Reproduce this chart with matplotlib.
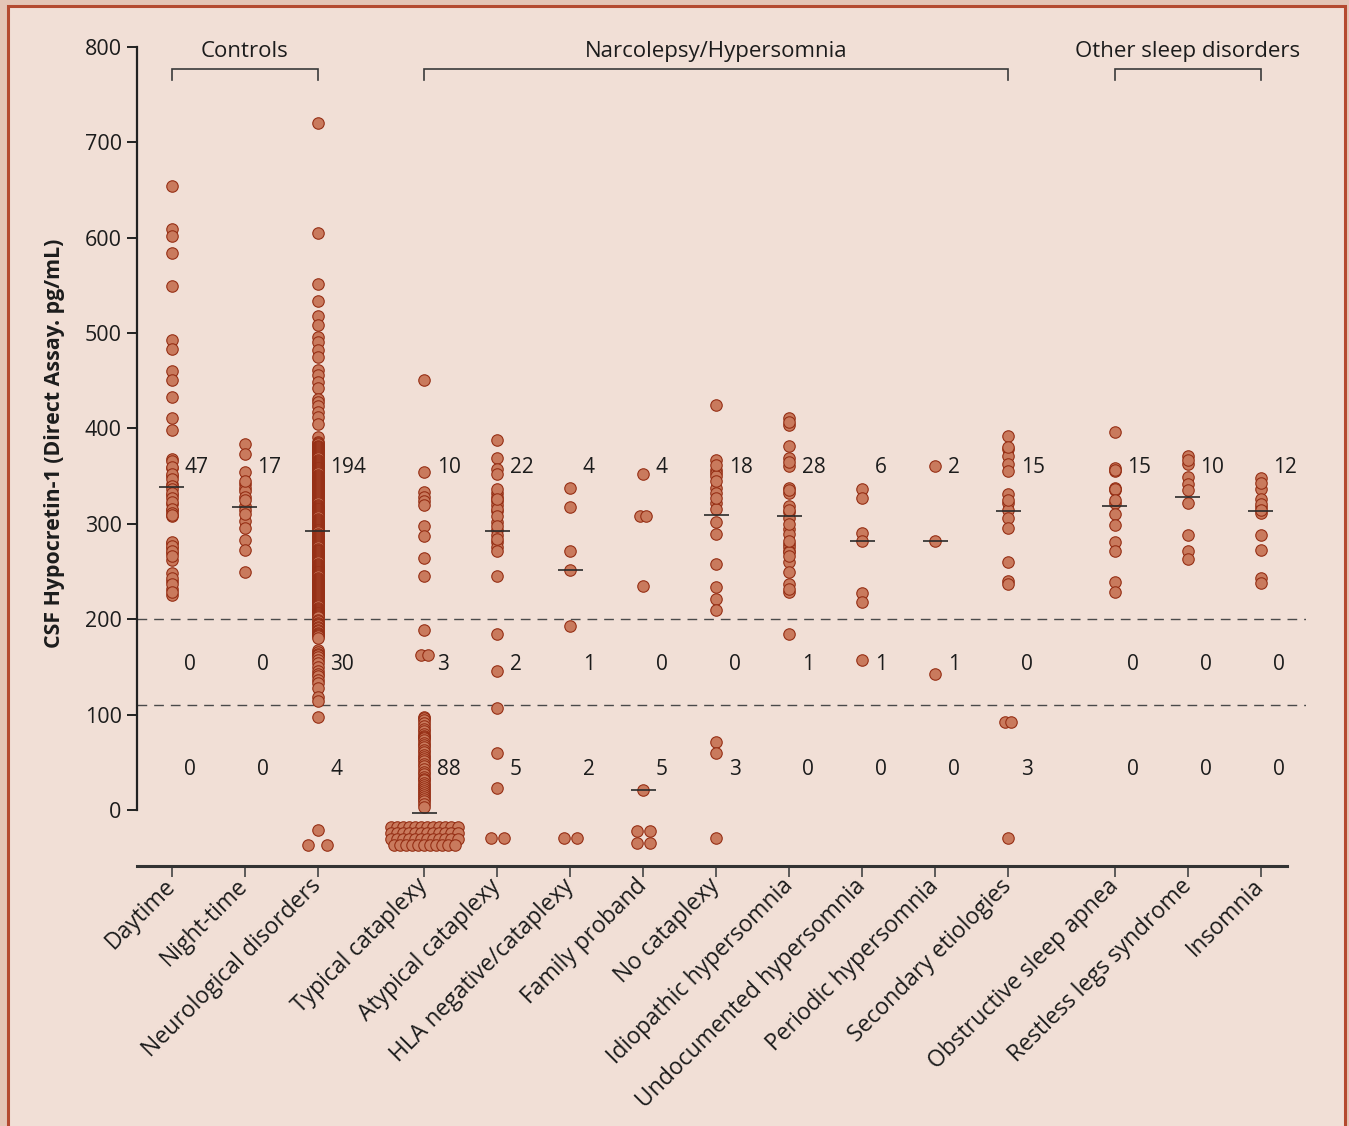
import matplotlib
matplotlib.use("Agg")
import matplotlib.pyplot as plt
from matplotlib.patches import Rectangle
from collections import Counter

plt.rcParams['font.family'] = ['Open Sans', 'DejaVu Sans']

# ---------------------------------------------------------------- data
categories = ["Daytime", "Night-time", "Neurological disorders",
              "Typical cataplexy", "Atypical cataplexy", "HLA negative/cataplexy",
              "Family proband", "No cataplexy", "Idiopathic hypersomnia",
              "Undocumented hypersomnia", "Periodic hypersomnia", "Secondary etiologies",
              "Obstructive sleep apnea", "Restless legs syndrome", "Insomnia"]
groups = ["Controls", "Narcolepsy/Hypersomnia", "Other sleep disorders"]
group_sizes = [3, 9, 3]

# CSF hypocretin-1 values (pg/mL); negative values mark undetectable samples
daytime = [654, 609, 602, 584, 549, 493, 483, 460, 451, 433, 411, 398, 368, 359,
           350, 342, 330, 321, 314, 308, 280, 275, 269, 262, 248, 240, 232, 225,
           366, 360, 352, 347, 340, 336, 332, 327, 323, 316, 311, 309, 281, 277,
           271, 266, 243, 237, 229]
night_time = [384, 373, 354, 342, 338, 334, 328, 319, 314, 303, 296, 283, 273, 249,
              345, 325, 310]
neurological = [720, 605, 551, 534, 518, 508, 496, 491, 482, 475, 461, 456, 449, 442,
                431, 428, 423, 417, 412, 405, 391, 386,
                385, 384, 382, 381, 380, 379, 378, 377, 376, 375, 374, 373, 372, 371,
                370, 369, 367, 366, 365, 364, 363, 362, 361, 360, 359, 358, 357, 356,
                355, 354, 353, 351, 350, 349, 348, 347, 346, 345, 344, 343, 342, 341,
                340, 339, 338, 336, 335, 334, 333, 332, 331, 330, 329, 328, 327, 326,
                325, 324, 323, 322, 320, 319, 318, 317, 316, 315, 314, 313, 312, 311,
                310, 309, 308, 307, 305, 304, 303, 302, 301, 300, 299, 298, 297, 296,
                295, 294, 293, 292, 291, 289, 288, 287, 286, 285, 284, 283, 282, 281,
                280, 279, 278, 277, 276, 274, 273, 272, 271, 270, 269, 268, 267, 266,
                265, 264, 263, 262, 261, 260, 258, 257, 256, 255, 254, 253, 252, 251,
                250, 249, 248, 247, 246, 245, 243, 242, 241, 240, 239, 238, 237, 236,
                235, 234, 233, 232, 231, 230, 229, 227, 226, 225, 224, 223, 222, 221,
                220, 219, 218, 217, 216, 215, 214, 212, 211, 210, 209, 208, 207, 206,
                205, 204, 203, 202,
                199, 198, 196, 195, 194, 192, 191, 189, 188, 186, 185, 183, 182, 180,
                168, 166, 164, 162, 160, 157, 154, 150, 146, 143, 140, 136, 133, 128,
                118, 114,
                97, -21, -37, -37]
typical_cataplexy = [451, 354, 333, 328, 324, 320, 298, 287, 264, 245,
                     189, 162, 162,
                     98, 96, 94, 91, 88, 85, 83, 80, 78, 77, 75, 73, 70, 68, 66, 63,
                     61, 58, 56, 53, 51, 48, 46, 43, 40, 38, 35, 33, 31, 28, 26, 24,
                     22, 20, 18, 16, 14, 12, 9, 6, 3,
                     -18, -18, -18, -18, -18, -18, -18, -18, -18, -18, -18, -18,
                     -24, -24, -24, -24, -24, -24, -24, -24, -24, -24, -24, -24,
                     -30, -30, -30, -30, -30, -30, -30, -30, -30, -30, -30, -30,
                     -37, -37, -37, -37, -37, -37, -37, -37, -37, -37, -37]
atypical_cataplexy = [388, 369, 357, 352, 332, 328, 324, 320, 313, 302, 294, 288,
                      281, 276, 271, 245, 336, 316, 308, 298, 284, 326,
                      185, 146,
                      107, 60, 23, -29, -29]
hla_negative = [338, 318, 272, 252, 193, -29, -29]
family_proband = [352, 308, 308, 235, 21, -22, -22, -35, -35]
no_cataplexy = [425, 367, 356, 353, 350, 338, 332, 322, 315, 302, 289, 258, 234,
                221, 210, 362, 345, 327,
                71, 60, -29]
idiopathic = [411, 404, 382, 369, 361, 338, 332, 319, 312, 306, 295, 289, 279, 276,
              272, 270, 260, 250, 237, 229, 407, 365, 335, 314, 300, 282, 266, 232,
              185]
undocumented = [336, 327, 290, 282, 227, 218, 157]
periodic = [361, 282, 143]
secondary = [392, 378, 371, 363, 355, 331, 322, 314, 306, 296, 260, 240, 237, 381, 325,
             92, 92, -29]
sleep_apnea = [396, 358, 355, 338, 335, 322, 310, 299, 281, 271, 239, 229, 356, 336, 325]
restless_legs = [371, 363, 349, 342, 335, 322, 288, 272, 263, 367]
insomnia = [348, 337, 326, 318, 311, 288, 273, 243, 238, 343, 321, 314]

series = [daytime, night_time, neurological, typical_cataplexy, atypical_cataplexy,
          hla_negative, family_proband, no_cataplexy, idiopathic, undocumented,
          periodic, secondary, sleep_apnea, restless_legs, insomnia]

medians = [339, 318, 292, -3, 292, 252, 21, 309, 308, 282, 282, 313, 319, 328, 313]

count_high = [47, 17, 194, 10, 22, 4, 4, 18, 28, 6, 2, 15, 15, 10, 12]
count_mid = [0, 0, 30, 3, 2, 1, 0, 0, 1, 1, 1, 0, 0, 0, 0]
count_low = [0, 0, 4, 88, 5, 2, 5, 3, 0, 0, 0, 3, 0, 0, 0]

cut_normal = 200
cut_low = 110

# ---------------------------------------------------------------- checks
for name, vals, h, m, l in zip(categories, series, count_high, count_mid, count_low):
    nh = sum(v >= cut_normal for v in vals)
    nm = sum(cut_low <= v < cut_normal for v in vals)
    nl = sum(v < cut_low for v in vals)
    assert (nh, nm, nl) == (h, m, l), f"{name}: {(nh, nm, nl)} vs {(h, m, l)}"

# ---------------------------------------------------------------- layout
group_gap = 1.46
positions = []
x = 0.0
for gi, size in enumerate(group_sizes):
    for k in range(size):
        positions.append(x)
        x += 1.0
    x += group_gap - 1.0

undetect_step = {2: 0.26, 3: 0.083}


def spread(values, center, idx):
    cnt = Counter(values)
    seen = Counter()
    xs = []
    for v in values:
        n = cnt[v]
        i = seen[v]
        seen[v] += 1
        if n == 1:
            xs.append(center)
        else:
            step = undetect_step.get(idx, 0.18) if v < 0 else 0.09
            xs.append(center + (i - (n - 1) / 2) * step)
    return xs


# ---------------------------------------------------------------- figure
W, H = 1349, 1126
fig = plt.figure(figsize=(W / 100, H / 100), dpi=100, facecolor='#e4c5b6')
panel = Rectangle((8 / W, -0.02), (1345 - 8) / W, 1.02 - 6 / H,
                  transform=fig.transFigure, facecolor='#f1dfd6',
                  edgecolor='#b44a30', linewidth=2.2, zorder=-10)
fig.patches.append(panel)

ax = fig.add_axes([137 / W, 1 - 866 / H, (1306 - 137) / W, (866 - 20) / H])
ax.set_facecolor('none')
ax.set_zorder(1)
ax.set_xlim(-0.475, 15.54)
ax.set_ylim(-58.7, 828.1)

ink = '#1c1c1c'
dot_face = '#c97a5d'
dot_edge = '#962f15'

for i, (pos, vals) in enumerate(zip(positions, series)):
    xs = spread(vals, pos, i)
    ax.scatter(xs, vals, s=68, facecolor=dot_face, edgecolor=dot_edge,
               linewidth=0.8, zorder=3, clip_on=False)
    ax.plot([pos - 0.17, pos + 0.17], [medians[i]] * 2, color='#2a2a2a',
            lw=1.2, zorder=4, solid_capstyle='butt')
    dx = 0.17
    ax.text(pos + dx, 353, str(count_high[i]), fontsize=15, color=ink,
            ha='left', va='baseline')
    ax.text(pos + dx, 147, str(count_mid[i]), fontsize=15, color=ink,
            ha='left', va='baseline')
    ax.text(pos + dx, 37, str(count_low[i]), fontsize=15, color=ink,
            ha='left', va='baseline')

for yv in (cut_normal, cut_low):
    ax.axhline(yv, color='#4a4a4a', lw=1.0, dashes=(7, 5), zorder=1)

# group brackets and titles
start = 0
for name, size in zip(groups, group_sizes):
    x0 = positions[start]
    x1 = positions[start + size - 1]
    ax.plot([x0, x0, x1, x1], [765, 777, 777, 765], color='#3a3a3a', lw=1.2,
            solid_joinstyle='miter', clip_on=False)
    ax.text((x0 + x1) / 2, 789, name, fontsize=16, color=ink,
            ha='center', va='baseline')
    start += size

# axes styling
for side in ('top', 'right'):
    ax.spines[side].set_visible(False)
ax.spines['left'].set_bounds(0, 800)
ax.spines['left'].set_linewidth(1.6)
ax.spines['left'].set_color('#222222')
ax.spines['bottom'].set_bounds(-0.475, 15.28)
ax.spines['bottom'].set_linewidth(2.2)
ax.spines['bottom'].set_color('#333333')

ax.set_yticks(range(0, 801, 100))
ax.tick_params(axis='y', length=7, width=1.4, color='#222222', labelsize=15.5,
               labelcolor=ink, pad=4)
ax.set_xticks(positions)
ax.set_xticklabels(categories, rotation=45, ha='right', va='center',
                   rotation_mode='anchor', fontsize=16.5, color=ink)
ax.tick_params(axis='x', length=8, width=1.2, color='#444444', pad=4)

ax.set_ylabel("CSF Hypocretin-1 (Direct Assay. pg/mL)", fontsize=15.4,
              fontweight='bold', color=ink)
ax.yaxis.set_label_coords(-0.062, 0.5)

fig.savefig("out.png", dpi=100, facecolor=fig.get_facecolor())
